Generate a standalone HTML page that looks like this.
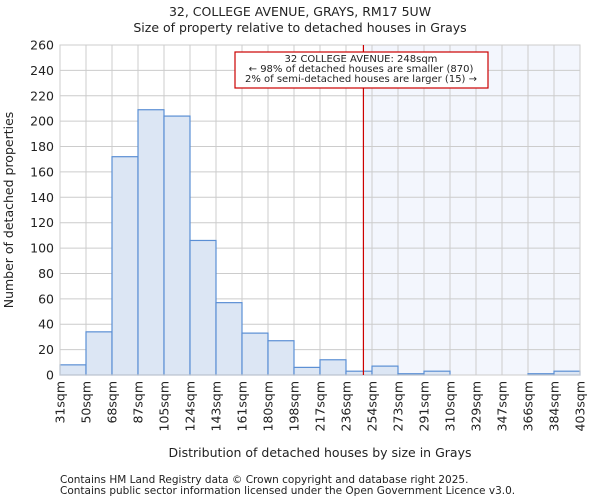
<!DOCTYPE html>
<html><head><meta charset="utf-8"><style>
body{margin:0;background:#fff;font-family:"DejaVu Sans","Liberation Sans",sans-serif;}
svg text{font-family:"DejaVu Sans","Liberation Sans",sans-serif;fill:#222;}
</style></head><body>
<svg id="chart" width="600" height="500" xmlns="http://www.w3.org/2000/svg">
<text x="300" y="16" text-anchor="middle" font-size="12.5">32, COLLEGE AVENUE, GRAYS, RM17 5UW</text>
<text x="300" y="32" text-anchor="middle" font-size="12.5">Size of property relative to detached houses in Grays</text>
<g id="plot"></g>
<text x="320" y="457" text-anchor="middle" font-size="12.5">Distribution of detached houses by size in Grays</text>
<text transform="translate(13,210) rotate(-90)" text-anchor="middle" font-size="12.5">Number of detached properties</text>
<text x="60" y="483" font-size="10.5" fill="#444">Contains HM Land Registry data © Crown copyright and database right 2025.</text>
<text x="60" y="494" font-size="10.5" fill="#444">Contains public sector information licensed under the Open Government Licence v3.0.</text>
</svg>
<script>
const binEdges=[31,50,68,87,105,124,143,161,180,198,217,236,254,273,291,310,329,347,366,384,403];
const counts=[8,34,172,209,204,106,57,33,27,6,12,3,7,1,3,0,0,0,1,3];
const yTicks=[0,20,40,60,80,100,120,140,160,180,200,220,240,260];
const subjectBin=11.67;
const NS="http://www.w3.org/2000/svg";
const L=60,R=580,T=45,B=375,yMax=260,n=counts.length;
const xs=i=>L+(R-L)*i/n;
const ys=v=>B-(B-T)*v/yMax;
const g=document.getElementById('plot');
function mk(t,a){const e=document.createElementNS(NS,t);for(const k in a)e.setAttribute(k,a[k]);g.appendChild(e);return e;}
let e=mk('rect',{x:L,y:T,width:R-L,height:B-T,fill:'#fff'});


e=mk('rect',{x:xs(subjectBin),y:T,width:R-xs(subjectBin),height:B-T,fill:'#f3f6fd'});


yTicks.forEach(v=>{
 e=mk('line',{x1:L,x2:R,y1:ys(v),y2:ys(v),stroke:'#ccc','stroke-width':1});
 
 
 e=mk('text',{x:L-6,y:ys(v)+4.5,'text-anchor':'end','font-size':12.5});
 e.textContent=v;
 
 
});
binEdges.forEach((b,i)=>{
 e=mk('line',{x1:xs(i),x2:xs(i),y1:T,y2:B,stroke:'#ccc','stroke-width':1});
 
 
 e=mk('text',{transform:`translate(${xs(i)+4.5},${B+6}) rotate(-90)`,'text-anchor':'end','font-size':12.5});
 e.textContent=b+'sqm';
 
 
});
counts.forEach((c,i)=>{
 e=mk('rect',{x:xs(i),y:ys(c),width:xs(i+1)-xs(i),height:B-ys(c),fill:'#dce6f4',stroke:'#5b8fd4','stroke-width':1.2});
 
 
});
e=mk('rect',{x:L,y:T,width:R-L,height:B-T,fill:'none',stroke:'#ccc'});


e=mk('line',{x1:xs(subjectBin),x2:xs(subjectBin),y1:T,y2:B,stroke:'#c00','stroke-width':1.2});


e=mk('rect',{x:235,y:52,width:253,height:36,fill:'#fff',stroke:'#c00','stroke-width':1.2});


["32 COLLEGE AVENUE: 248sqm","← 98% of detached houses are smaller (870)","2% of semi-detached houses are larger (15) →"].forEach((t,i)=>{
 e=mk('text',{x:361,y:62+i*10,'text-anchor':'middle','font-size':10,textLength:i==0?'':'' });
 e.removeAttribute('textLength');
 e.textContent=t;
 
 
});
</script>
</body></html>
